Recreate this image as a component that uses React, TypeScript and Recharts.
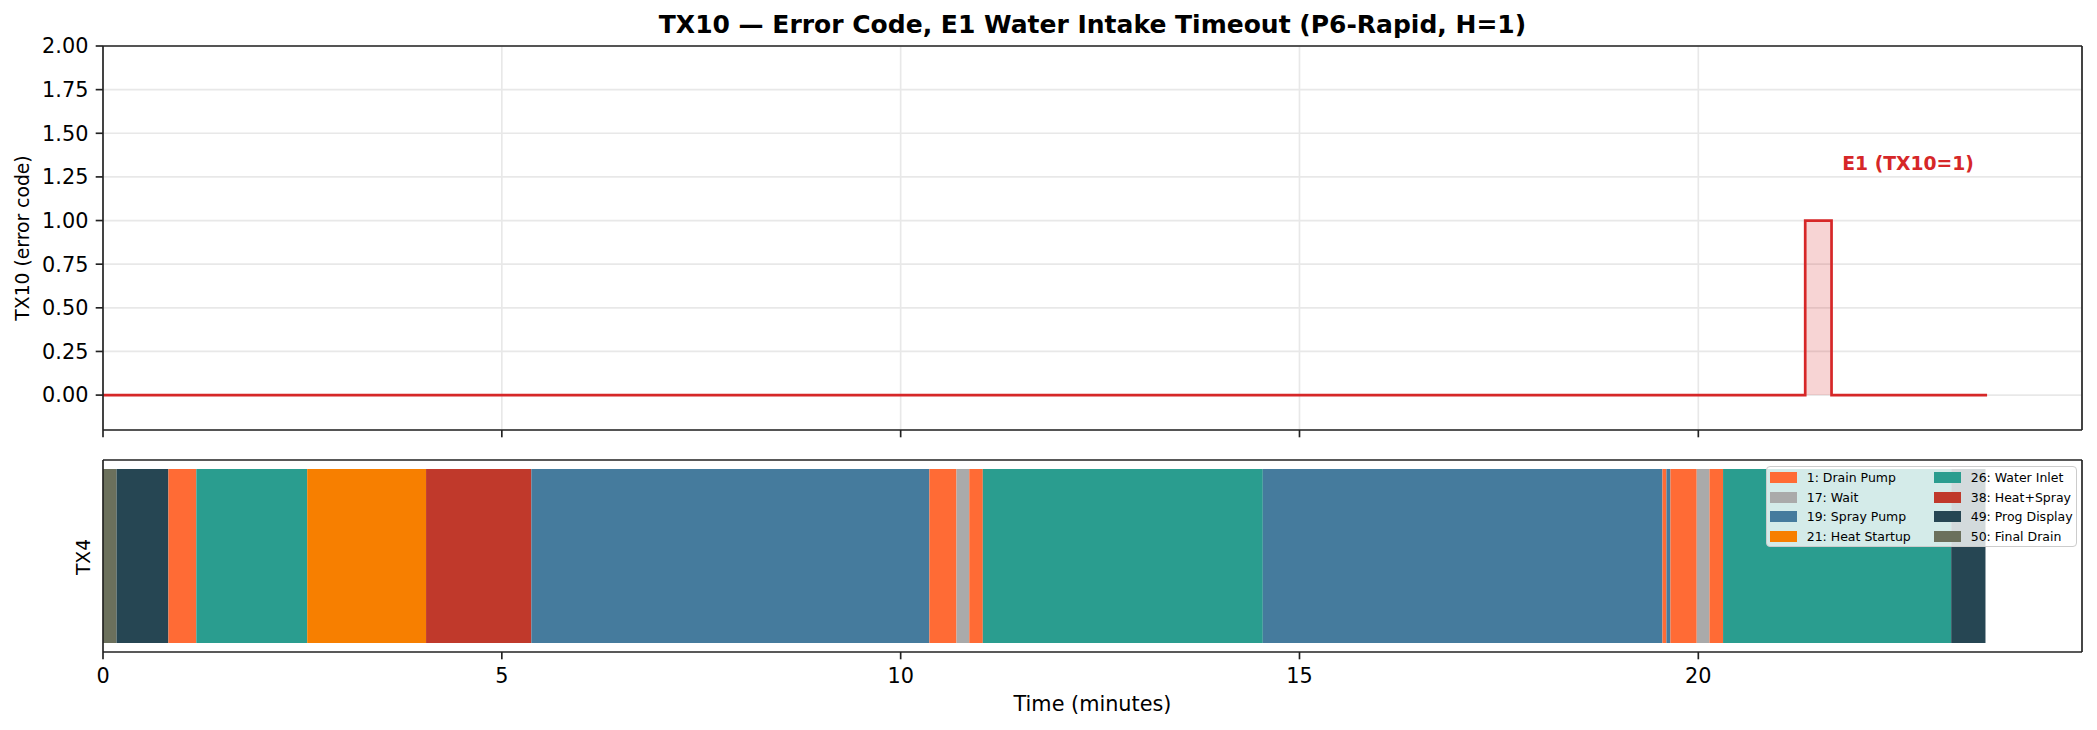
import { ComposedChart, Area, BarChart, Bar, XAxis, YAxis, CartesianGrid, ReferenceDot } from 'recharts';

// TX10 error code trace (step signal)
const errTime = [0, 21.34, 21.67, 23.62];
const errValue = [0, 1, 0, 0];
const xMax = 24.81;
const xTicks = [0, 5, 10, 15, 20];
const yTicks = [0, 0.25, 0.5, 0.75, 1, 1.25, 1.5, 1.75, 2];
const annotT = 22.63;
const annotV = 1.33;
const annotText = 'E1 (TX10=1)';

// TX4 program states
const stateCodes = [1, 17, 19, 21, 26, 38, 49, 50];
const stateNames = ['Drain Pump', 'Wait', 'Spray Pump', 'Heat Startup', 'Water Inlet', 'Heat+Spray', 'Prog Display', 'Final Drain'];
const stateColors = ['#ff6b35', '#aaaaaa', '#457b9d', '#f77f00', '#2a9d8f', '#c0392b', '#264653', '#6b705c'];

// state sequence along the run, with the minute at which each one ends
const segCodes = [50, 49, 1, 26, 21, 38, 19, 1, 17, 1, 26, 19, 1, 19, 1, 17, 1, 26, 49];
const segEnds = [0.17, 0.82, 1.17, 2.56, 4.05, 5.37, 10.36, 10.7, 10.86, 11.03, 14.54, 19.55, 19.6, 19.65, 19.98, 20.14, 20.31, 23.17, 23.6];

const errData = errTime.map((t, i) => ({ t, v: errValue[i] }));

const stripRow: Record<string, number | string> = { name: 'TX4', zero: 0 };
segEnds.forEach((end, i) => {
  stripRow[`s${i}`] = end - (i > 0 ? segEnds[i - 1] : 0);
});

const colorOf = (code: number) => stateColors[stateCodes.indexOf(code)];

const AX = '#222';
const LW = 1.67;
const tickFont = { fill: '#000', fontSize: 20.8, fontFamily: 'DejaVu Sans' };
const frameLine = { stroke: AX, strokeWidth: LW };

function StateLegend() {
  return (
    <div
      style={{
        position: 'absolute', left: 1766, top: 466, width: 311, height: 81, boxSizing: 'border-box',
        background: 'rgba(255,255,255,0.8)', border: '1px solid #cccccc', borderRadius: 4,
        padding: '1px 0 0 3px', display: 'grid', gridTemplateColumns: '164px 140px',
        gridTemplateRows: 'repeat(4, 19.5px)', gridAutoFlow: 'column', fontSize: 12.5, color: '#000',
      }}
    >
      {stateCodes.map((code, i) => (
        <div key={code} style={{ display: 'flex', alignItems: 'center', whiteSpace: 'nowrap' }}>
          <span style={{ width: 26.7, height: 10.7, background: stateColors[i], marginRight: 10, flex: 'none' }} />
          {`${code}: ${stateNames[i]}`}
        </div>
      ))}
    </div>
  );
}

export default function App() {
  return (
    <div style={{ position: 'absolute', left: 0, top: 0, width: 2097, height: 730, background: '#fff', fontFamily: 'DejaVu Sans', overflow: 'hidden' }}>
      <div style={{ position: 'absolute', left: 103, width: 1979, top: 12, textAlign: 'center', fontSize: 25, lineHeight: '25px', fontWeight: 'bold', whiteSpace: 'nowrap' }}>
        TX10 — Error Code, E1 Water Intake Timeout (P6-Rapid, H=1)
      </div>

      <div style={{ position: 'absolute', left: 0, top: 0 }}>
        <ComposedChart width={2097} height={450} data={errData} margin={{ top: 45, right: 14, bottom: 0, left: 0 }}>
          <CartesianGrid stroke="#e8e8e8" strokeWidth={LW} />
          <XAxis
            dataKey="t" type="number" domain={[0, xMax]} ticks={xTicks} allowDataOverflow height={20}
            tickFormatter={() => ''} tick={tickFont} tickSize={7.3} axisLine={frameLine} tickLine={frameLine}
          />
          <XAxis xAxisId="top" orientation="top" dataKey="t" type="number" domain={[0, xMax]} ticks={xTicks} allowDataOverflow height={1} tickFormatter={() => ''} tickLine={false} axisLine={frameLine} />
          <YAxis
            type="number" domain={[-0.2, 2]} ticks={yTicks} allowDataOverflow width={103} tickSize={7.3} tickMargin={7.3}
            tickFormatter={(v: number) => v.toFixed(2)} tick={tickFont} axisLine={frameLine} tickLine={frameLine}
          />
          <YAxis yAxisId="right" orientation="right" type="number" domain={[-0.2, 2]} ticks={yTicks} allowDataOverflow width={1} tickFormatter={() => ''} tickLine={false} axisLine={frameLine} />
          <Area
            type="stepAfter" dataKey="v" baseValue={0} stroke="#d62728" strokeWidth={2.7} fill="#d62728" fillOpacity={0.2}
            dot={false} activeDot={false} isAnimationActive={false}
          />
          <Area xAxisId="top" yAxisId="right" dataKey="v" stroke="none" fill="none" dot={false} activeDot={false} isAnimationActive={false} />
          <ReferenceDot
            x={annotT} y={annotV} r={0} fill="none" stroke="none"
            label={{ value: annotText, position: 'center', fill: '#d62728', fontWeight: 'bold', fontSize: 18.75, fontFamily: 'DejaVu Sans' }}
          />
        </ComposedChart>
      </div>

      <div style={{ position: 'absolute', left: 23, top: 238, transform: 'translate(-50%, -50%) rotate(-90deg)', fontSize: 18.75, lineHeight: '18.75px', whiteSpace: 'nowrap' }}>
        TX10 (error code)
      </div>

      <div style={{ position: 'absolute', left: 0, top: 440 }}>
        <BarChart width={2097} height={290} data={[stripRow]} layout="vertical" margin={{ top: 19, right: 14, bottom: 0, left: 0 }}>
          <XAxis
            type="number" domain={[0, xMax]} ticks={xTicks} allowDataOverflow height={78} tickSize={7.3} tickMargin={9}
            tick={tickFont} axisLine={frameLine} tickLine={frameLine}
          />
          <XAxis xAxisId="top" orientation="top" type="number" domain={[0, xMax]} ticks={xTicks} allowDataOverflow height={1} tickFormatter={() => ''} tickLine={false} axisLine={frameLine} />
          <YAxis type="category" dataKey="name" width={103} tick={false} tickLine={false} axisLine={frameLine} />
          <YAxis yAxisId="right" orientation="right" type="category" dataKey="name" width={1} tickFormatter={() => ''} tickLine={false} axisLine={frameLine} />
          {segCodes.map((code, i) => (
            <Bar key={i} dataKey={`s${i}`} stackId="tx4" barSize={174} fill={colorOf(code)} isAnimationActive={false} />
          ))}
          <Bar xAxisId="top" yAxisId="right" dataKey="zero" barSize={174} fill="none" isAnimationActive={false} />
        </BarChart>
      </div>

      <div style={{ position: 'absolute', left: 84, top: 557, transform: 'translate(-50%, -50%) rotate(-90deg)', fontSize: 18.75, lineHeight: '18.75px', whiteSpace: 'nowrap' }}>
        TX4
      </div>

      <div style={{ position: 'absolute', left: 103, width: 1979, top: 693, textAlign: 'center', fontSize: 20.8, lineHeight: '22px', whiteSpace: 'nowrap' }}>
        Time (minutes)
      </div>

      <StateLegend />
    </div>
  );
}
